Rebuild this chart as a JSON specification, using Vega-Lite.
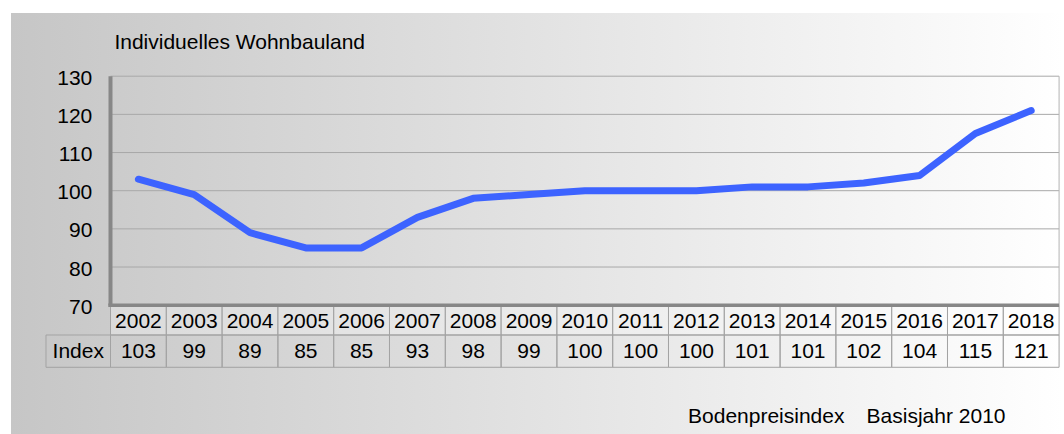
{
  "$schema": "https://vega.github.io/schema/vega-lite/v6.json",
  "width": 1053,
  "height": 421,
  "autosize": {"type": "none"},
  "padding": {"left": 11, "top": 13, "right": 0, "bottom": 0},
  "background": "white",
  "config": {
    "view": {
      "stroke": null,
      "fill": {"gradient": "linear", "x1": 0, "y1": 0, "x2": 1, "y2": 0,
        "stops": [{"offset": 0, "color": "#c6c6c6"}, {"offset": 1, "color": "#ffffff"}]}
    },
    "text": {"font": "Liberation Sans, Arial", "fontSize": 21, "color": "#000000"}
  },
  "datasets": {
    "index": [
      {"year": 2002, "value": 103}, {"year": 2003, "value": 99}, {"year": 2004, "value": 89},
      {"year": 2005, "value": 85}, {"year": 2006, "value": 85}, {"year": 2007, "value": 93},
      {"year": 2008, "value": 98}, {"year": 2009, "value": 99}, {"year": 2010, "value": 100},
      {"year": 2011, "value": 100}, {"year": 2012, "value": 100}, {"year": 2013, "value": 101},
      {"year": 2014, "value": 101}, {"year": 2015, "value": 102}, {"year": 2016, "value": 104},
      {"year": 2017, "value": 115}, {"year": 2018, "value": 121}
    ],
    "ticks": [{"v": 70}, {"v": 80}, {"v": 90}, {"v": 100}, {"v": 110}, {"v": 120}, {"v": 130}],
    "one": [{}]
  },
  "layer": [
    {
      "data": {"name": "index"},
      "mark": {"type": "rect", "width": 55.8, "fill": "#ffffff", "fillOpacity": 0.3, "stroke": "#a3a3a3", "strokeWidth": 1},
      "encoding": {
        "x": {"field": "year", "type": "quantitative", "scale": {"domain": [1999.7168, 2018.588], "nice": false, "zero": false}, "axis": null},
        "y": {"datum": 62.19, "type": "quantitative", "scale": {"domain": [36.25, 146.56], "nice": false, "zero": false}, "axis": null},
        "y2": {"datum": 70}
      }
    },
    {
      "data": {"name": "index"},
      "mark": {"type": "rect", "width": 55.8, "fillOpacity": 0, "fill": "#ffffff", "stroke": "#a3a3a3", "strokeWidth": 1},
      "encoding": {
        "x": {"field": "year", "type": "quantitative"},
        "y": {"datum": 53.73, "type": "quantitative"},
        "y2": {"datum": 62.19}
      }
    },
    {
      "data": {"name": "one"},
      "mark": {"type": "rect", "fillOpacity": 0, "fill": "#ffffff", "stroke": "#a3a3a3", "strokeWidth": 1},
      "encoding": {
        "x": {"datum": 2000.344, "type": "quantitative"},
        "x2": {"datum": 2001.5},
        "y": {"datum": 53.73, "type": "quantitative"},
        "y2": {"datum": 62.19}
      }
    },
    {
      "data": {"name": "ticks"},
      "mark": {"type": "rule", "color": "#a8a8a8", "strokeWidth": 1},
      "encoding": {
        "x": {"datum": 2001.5, "type": "quantitative"},
        "x2": {"datum": 2018.5},
        "y": {"field": "v", "type": "quantitative"}
      }
    },
    {
      "data": {"name": "one"},
      "mark": {"type": "rule", "color": "#b4b4b4", "strokeWidth": 1},
      "encoding": {
        "x": {"datum": 2018.5, "type": "quantitative"},
        "y": {"datum": 70, "type": "quantitative"},
        "y2": {"datum": 130}
      }
    },
    {
      "data": {"name": "one"},
      "mark": {"type": "rule", "color": "#878787", "strokeWidth": 4},
      "encoding": {
        "x": {"datum": 2001.5, "type": "quantitative"},
        "y": {"datum": 70, "type": "quantitative"},
        "y2": {"datum": 130}
      }
    },
    {
      "data": {"name": "one"},
      "mark": {"type": "rule", "color": "#878787", "strokeWidth": 3.5},
      "encoding": {
        "x": {"datum": 2001.46, "type": "quantitative"},
        "x2": {"datum": 2018.5},
        "y": {"datum": 70, "type": "quantitative"}
      }
    },
    {
      "data": {"name": "index"},
      "mark": {"type": "line", "color": "#3d63ff", "strokeWidth": 7, "strokeCap": "round", "strokeJoin": "round"},
      "encoding": {
        "x": {"field": "year", "type": "quantitative"},
        "y": {"field": "value", "type": "quantitative"}
      }
    },
    {
      "data": {"name": "ticks"},
      "mark": {"type": "text", "align": "right", "baseline": "alphabetic", "dy": 8.5},
      "encoding": {
        "x": {"datum": 2001.174, "type": "quantitative"},
        "y": {"field": "v", "type": "quantitative"},
        "text": {"field": "v", "type": "nominal"}
      }
    },
    {
      "data": {"name": "index"},
      "mark": {"type": "text", "align": "center", "baseline": "alphabetic"},
      "encoding": {
        "x": {"field": "year", "type": "quantitative"},
        "y": {"datum": 63.95, "type": "quantitative"},
        "text": {"field": "year", "type": "nominal"}
      }
    },
    {
      "data": {"name": "index"},
      "mark": {"type": "text", "align": "center", "baseline": "alphabetic"},
      "encoding": {
        "x": {"field": "year", "type": "quantitative"},
        "y": {"datum": 56.09, "type": "quantitative"},
        "text": {"field": "value", "type": "nominal"}
      }
    },
    {
      "data": {"name": "one"},
      "mark": {"type": "text", "align": "center", "baseline": "alphabetic", "text": "Index"},
      "encoding": {
        "x": {"datum": 2000.922, "type": "quantitative"},
        "y": {"datum": 56.09, "type": "quantitative"}
      }
    },
    {
      "data": {"name": "one"},
      "mark": {"type": "text", "align": "left", "baseline": "alphabetic", "text": "Individuelles Wohnbauland"},
      "encoding": {
        "x": {"datum": 2001.57, "type": "quantitative"},
        "y": {"datum": 137.13, "type": "quantitative"}
      }
    },
    {
      "data": {"name": "one"},
      "mark": {"type": "text", "align": "left", "baseline": "alphabetic", "text": "Bodenpreisindex"},
      "encoding": {
        "x": {"datum": 2011.85, "type": "quantitative"},
        "y": {"datum": 39.14, "type": "quantitative"}
      }
    },
    {
      "data": {"name": "one"},
      "mark": {"type": "text", "align": "left", "baseline": "alphabetic", "text": "Basisjahr 2010"},
      "encoding": {
        "x": {"datum": 2015.05, "type": "quantitative"},
        "y": {"datum": 39.14, "type": "quantitative"}
      }
    }
  ]
}
